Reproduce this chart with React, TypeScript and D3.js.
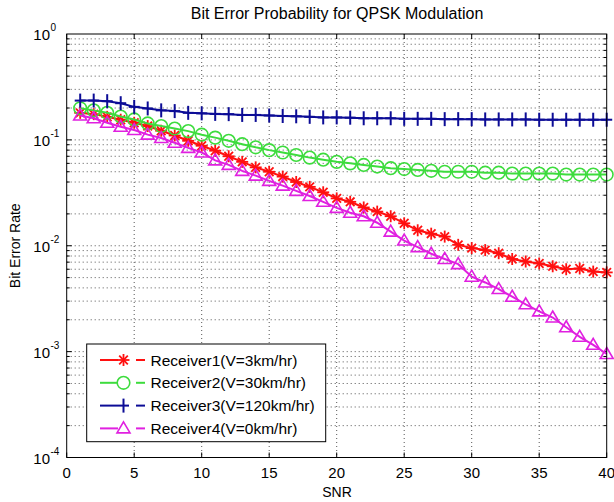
import * as d3 from 'd3';

// SNR values (dB), one marker per integer
const snr = [1, 2, 3, 4, 5, 6, 7, 8, 9, 10, 11, 12, 13, 14, 15, 16, 17, 18, 19, 20,
  21, 22, 23, 24, 25, 26, 27, 28, 29, 30, 31, 32, 33, 34, 35, 36, 37, 38, 39, 40];

// bit error rates
const receiver1 = [0.18, 0.175, 0.165, 0.155, 0.145, 0.135, 0.122, 0.11, 0.098, 0.088,
  0.079, 0.07, 0.062, 0.055, 0.05, 0.045, 0.04, 0.036, 0.032, 0.028,
  0.026, 0.023, 0.021, 0.019, 0.0163, 0.014, 0.013, 0.0122, 0.0102, 0.0095,
  0.0091, 0.0085, 0.0075, 0.0071, 0.0068, 0.0064, 0.006, 0.0061, 0.0057, 0.0056];
const receiver2 = [0.199, 0.19, 0.18, 0.166, 0.156, 0.143, 0.135, 0.128, 0.121, 0.112,
  0.105, 0.098, 0.091, 0.085, 0.08, 0.076, 0.072, 0.068, 0.065, 0.062,
  0.06, 0.058, 0.056, 0.054, 0.053, 0.052, 0.051, 0.05, 0.05, 0.05,
  0.049, 0.049, 0.048, 0.048, 0.048, 0.048, 0.047, 0.047, 0.047, 0.047];
const receiver3 = [0.235, 0.235, 0.232, 0.222, 0.205, 0.198, 0.19, 0.187, 0.18, 0.178,
  0.176, 0.175, 0.172, 0.172, 0.17, 0.168, 0.167, 0.165, 0.163, 0.163,
  0.162, 0.16, 0.16, 0.16, 0.158, 0.158, 0.158, 0.157, 0.157, 0.157,
  0.156, 0.156, 0.156, 0.156, 0.155, 0.155, 0.155, 0.155, 0.155, 0.155];
const receiver4 = [0.17, 0.16, 0.145, 0.133, 0.124, 0.112, 0.104, 0.094, 0.084, 0.076,
  0.064, 0.058, 0.051, 0.046, 0.041, 0.037, 0.033, 0.0295, 0.026, 0.0228,
  0.0205, 0.019, 0.0165, 0.0136, 0.0112, 0.0097, 0.0084, 0.0075, 0.0067, 0.0051,
  0.0045, 0.0039, 0.0033, 0.0028, 0.0024, 0.0021, 0.0017, 0.00138, 0.00116, 0.00095];

const seriesNames = ['Receiver1(V=3km/hr)', 'Receiver2(V=30km/hr)', 'Receiver3(V=120km/hr)', 'Receiver4(V=0km/hr)'];
const xTicks = [0, 5, 10, 15, 20, 25, 30, 35, 40];
const yExponents = [0, -1, -2, -3, -4];

const FONT = 'Arial, "Liberation Sans", Helvetica, sans-serif';

function Marker({ kind, x, y, color }) {
  if (kind === 'star') {
    const r = 6, d = r * 0.72;
    return (
      <g stroke={color} strokeWidth={1.8}>
        <line x1={x - r} y1={y} x2={x + r} y2={y} />
        <line x1={x} y1={y - r} x2={x} y2={y + r} />
        <line x1={x - d} y1={y - d} x2={x + d} y2={y + d} />
        <line x1={x - d} y1={y + d} x2={x + d} y2={y - d} />
      </g>
    );
  }
  if (kind === 'circle') {
    return <circle cx={x} cy={y} r={6.3} fill="none" stroke={color} strokeWidth={1.6} />;
  }
  if (kind === 'plus') {
    return (
      <g stroke={color} strokeWidth={2}>
        <line x1={x - 5.5} y1={y} x2={x + 5.5} y2={y} />
        <line x1={x} y1={y - 7} x2={x} y2={y + 7} />
      </g>
    );
  }
  // triangle (up)
  return (
    <path
      d={`M${x},${y - 6.5}L${x + 6.5},${y + 4.5}L${x - 6.5},${y + 4.5}Z`}
      fill="none"
      stroke={color}
      strokeWidth={1.6}
    />
  );
}

export default function App() {
  const width = 614;
  const height = 502;
  const left = 66.7, right = 606.7, top = 34, bottom = 457.5;

  const xScale = d3.scaleLinear().domain([0, 40]).range([left, right]);
  const yScale = d3.scaleLog().domain([1e-4, 1]).range([bottom, top]);

  const series = [
    { name: seriesNames[0], values: receiver1, color: '#ff1010', marker: 'star' },
    { name: seriesNames[1], values: receiver2, color: '#3ddc3d', marker: 'circle' },
    { name: seriesNames[2], values: receiver3, color: '#0c0c96', marker: 'plus' },
    { name: seriesNames[3], values: receiver4, color: '#e020e0', marker: 'triangle' },
  ];

  const line = d3.line<number>()
    .x((_, i) => xScale(snr[i]))
    .y(d => yScale(d));

  // minor log grid positions (2..9 x 10^k plus decades)
  const minorY: number[] = [];
  for (let k = -4; k < 0; k++) {
    for (let m = 1; m < 10; m++) {
      const v = m * Math.pow(10, k);
      if (v > 1e-4) minorY.push(v);
    }
  }

  const legendX = 86.7, legendY = 344, legendW = 239, legendH = 97.7;

  return (
    <svg
      width={width}
      height={height}
      style={{ position: 'absolute', left: 0, top: 0, background: '#fff' }}
      fontFamily={FONT}
    >
      <rect x={0} y={0} width={width} height={height} fill="#fff" />

      {/* dotted grid */}
      <g stroke="#555" strokeWidth={1} strokeDasharray="1 3">
        {xTicks.slice(1, -1).map(t => (
          <line key={'gx' + t} x1={xScale(t)} x2={xScale(t)} y1={top} y2={bottom} />
        ))}
        {minorY.map((v, i) => (
          <line key={'gy' + i} x1={left} x2={right} y1={yScale(v)} y2={yScale(v)} />
        ))}
      </g>

      {/* tick marks */}
      <g stroke="#000" strokeWidth={1}>
        {xTicks.map(t => (
          <g key={'tx' + t}>
            <line x1={xScale(t)} x2={xScale(t)} y1={bottom} y2={bottom - 5} />
            <line x1={xScale(t)} x2={xScale(t)} y1={top} y2={top + 5} />
          </g>
        ))}
        {minorY.map((v, i) => {
          const len = Number.isInteger(Math.log10(v)) ? 5 : 3;
          return (
            <g key={'ty' + i}>
              <line x1={left} x2={left + len} y1={yScale(v)} y2={yScale(v)} />
              <line x1={right} x2={right - len} y1={yScale(v)} y2={yScale(v)} />
            </g>
          );
        })}
      </g>

      {/* series */}
      {series.map(s => (
        <g key={s.name}>
          <path d={line(s.values) || ''} fill="none" stroke={s.color} strokeWidth={2} />
          {s.values.map((v, i) => (
            <Marker key={i} kind={s.marker} x={xScale(snr[i])} y={yScale(v)} color={s.color} />
          ))}
        </g>
      ))}

      {/* frame */}
      <rect x={left} y={top} width={right - left} height={bottom - top} fill="none" stroke="#000" strokeWidth={1} />

      {/* x tick labels */}
      {xTicks.map(t => (
        <text key={'lx' + t} x={xScale(t)} y={478} textAnchor="middle" fontSize={15}>
          {t}
        </text>
      ))}

      {/* y tick labels */}
      {yExponents.map(e => (
        <g key={'ly' + e}>
          <text x={50} y={yScale(Math.pow(10, e)) + 6} textAnchor="end" fontSize={15}>10</text>
          <text x={50.5} y={yScale(Math.pow(10, e)) - 3} textAnchor="start" fontSize={10}>{e}</text>
        </g>
      ))}

      {/* titles */}
      <text x={337} y={19} textAnchor="middle" fontSize={16}>
        Bit Error Probability for QPSK Modulation
      </text>
      <text x={337} y={497} textAnchor="middle" fontSize={14}>SNR</text>
      <text transform={`translate(20,${(top + bottom) / 2}) rotate(-90)`} textAnchor="middle" fontSize={14}>
        Bit Error Rate
      </text>

      {/* legend */}
      <rect x={legendX} y={legendY} width={legendW} height={legendH} fill="#fff" stroke="#000" strokeWidth={1} />
      {series.map((s, i) => {
        const cy = 360 + i * 22.8;
        return (
          <g key={'lg' + i}>
            <line x1={100} x2={118} y1={cy} y2={cy} stroke={s.color} strokeWidth={2} />
            <line x1={136} x2={145} y1={cy} y2={cy} stroke={s.color} strokeWidth={2} />
            <Marker kind={s.marker} x={123.5} y={cy} color={s.color} />
            <text x={150.5} y={cy + 5.5} fontSize={15.5}>{s.name}</text>
          </g>
        );
      })}
    </svg>
  );
}
